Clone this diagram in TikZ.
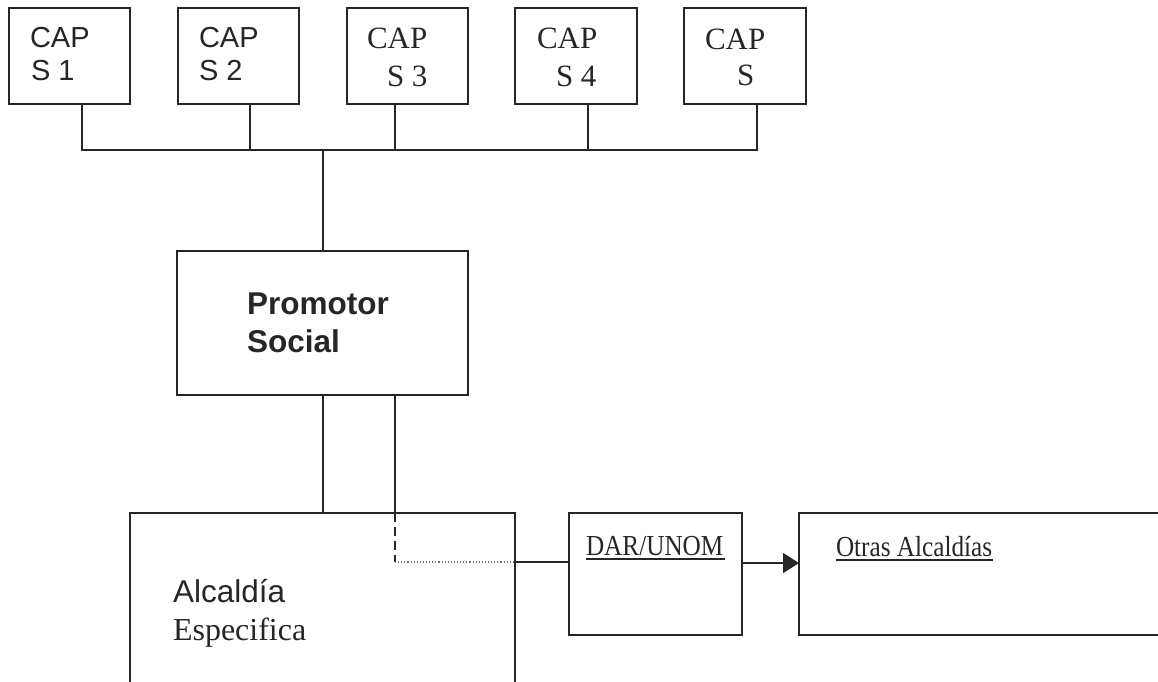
\documentclass[tikz,border=0pt]{standalone}
\usepackage{fontspec}
\setmainfont{Liberation Serif}
\setsansfont{Liberation Sans}
\usetikzlibrary{arrows.meta}
\tikzset{
  box/.style={draw=black!85, line width=1.4pt, rectangle, inner sep=0pt, outer sep=0pt, fill=none},
  conn/.style={draw=black!85, line width=1.4pt},
  sanstxt/.style={anchor=base west, inner sep=0pt, outer sep=0pt, font=\sffamily\fontsize{29}{35}\selectfont, text=black!85},
  seriftxt/.style={anchor=base west, inner sep=0pt, outer sep=0pt, font=\rmfamily\fontsize{31}{37}\selectfont, text=black!85},
  boldtxt/.style={anchor=base west, inner sep=0pt, outer sep=0pt, font=\sffamily\bfseries\fontsize{31.5}{37}\selectfont, text=black!85},
  ultxt/.style={anchor=base west, inner sep=0pt, outer sep=0pt, font=\rmfamily\fontsize{29}{35}\selectfont, text=black!85}
}
\newcommand{\ulbox}[1]{\scalebox{0.87}[1]{#1}}
\begin{document}
\begin{tikzpicture}[x=1pt,y=-1pt]
\useasboundingbox (0,0) rectangle (1158,681);
\clip (0,0) rectangle (1158,681);
\fill[white] (0,0) rectangle (1158,681);

% top boxes
\node[box, minimum width=121pt, minimum height=96pt] (s1) at (69.5,56) {};
\node[box, minimum width=121pt, minimum height=96pt] (s2) at (238.5,56) {};
\node[box, minimum width=121pt, minimum height=96pt] (s3) at (407.5,56) {};
\node[box, minimum width=122pt, minimum height=96pt] (s4) at (576,56) {};
\node[box, minimum width=122pt, minimum height=96pt] (s5) at (745,56) {};

\node[sanstxt] (t1a) at (30,47) {CAP};
\node[sanstxt] (t1b) at (31,80) {S 1};
\node[sanstxt] (t2a) at (199,47) {CAP};
\node[sanstxt] (t2b) at (199,80) {S 2};
\node[seriftxt] (t3a) at (367,48) {CAP};
\node[seriftxt] (t3b) at (387,86) {S 3};
\node[seriftxt] (t4a) at (537,48) {CAP};
\node[seriftxt] (t4b) at (556,86) {S 4};
\node[seriftxt] (t5a) at (705,49) {CAP};
\node[seriftxt] (t5b) at (737,85) {S};

% bus
\coordinate (b1) at (82,150);
\coordinate (b2) at (250,150);
\coordinate (b3) at (395,150);
\coordinate (b4) at (588,150);
\coordinate (b5) at (757,150);
\coordinate (bc) at (323,150);
\draw[conn] (b1 |- s1.south) -- (b1) -- (b5) -- (b5 |- s5.south);
\draw[conn] (b2 |- s2.south) -- (b2);
\draw[conn] (b3 |- s3.south) -- (b3);
\draw[conn] (b4 |- s4.south) -- (b4);

% promotor
\node[box, minimum width=291pt, minimum height=144pt] (prom) at (322.5,323) {};
\node[boldtxt] (pt1) at (247,314) {Promotor};
\node[boldtxt] (pt2) at (247,352) {Social};
\draw[conn] (bc) -- (bc |- prom.north);

% alcaldia
\node[box, minimum width=385pt, minimum height=247pt] (alc) at (322.5,636.5) {};
\node[sanstxt, font=\sffamily\fontsize{31.5}{37}\selectfont] (at1) at (173,602) {Alcaldía};
\node[seriftxt, font=\rmfamily\fontsize{32}{38}\selectfont] (at2) at (173,640) {Especifica};

\coordinate (pl) at (323,395);
\coordinate (pr) at (395,395);
\draw[conn] (pl) -- (pl |- alc.north);
\draw[conn] (pr) -- (pr |- alc.north);
\coordinate (dk) at (395,562);
\coordinate (ae) at (515,562);
\draw[draw=black!85, line width=2pt, dash pattern=on 9pt off 5pt] (pr |- alc.north) -- (dk);
\draw[draw=black!55, line width=1.1pt, dotted] (dk) -- (ae);

% DAR and Otras
\node[box, minimum width=173pt, minimum height=122pt] (dar) at (655.5,574) {};
\node[box, minimum width=402pt, minimum height=122pt] (otr) at (1000,574) {};
\node[ultxt] (dt) at (586,555) {\ulbox{DAR/UNOM}};
\node[ultxt] (ot) at (836,556) {\ulbox{Otras Alcaldías}};
\draw[conn, line width=1.2pt] (dt.base west) ++(0,4) -- ++(139,0);
\draw[conn, line width=1.2pt] (ot.base west) ++(0,4) -- ++(157,0);

\draw[conn] (ae) -- (ae -| dar.west);
\draw[conn, -{Triangle[length=16pt,width=20pt]}] (dar.east |- 0,563) -- (otr.west |- 0,563);
\end{tikzpicture}
\end{document}
